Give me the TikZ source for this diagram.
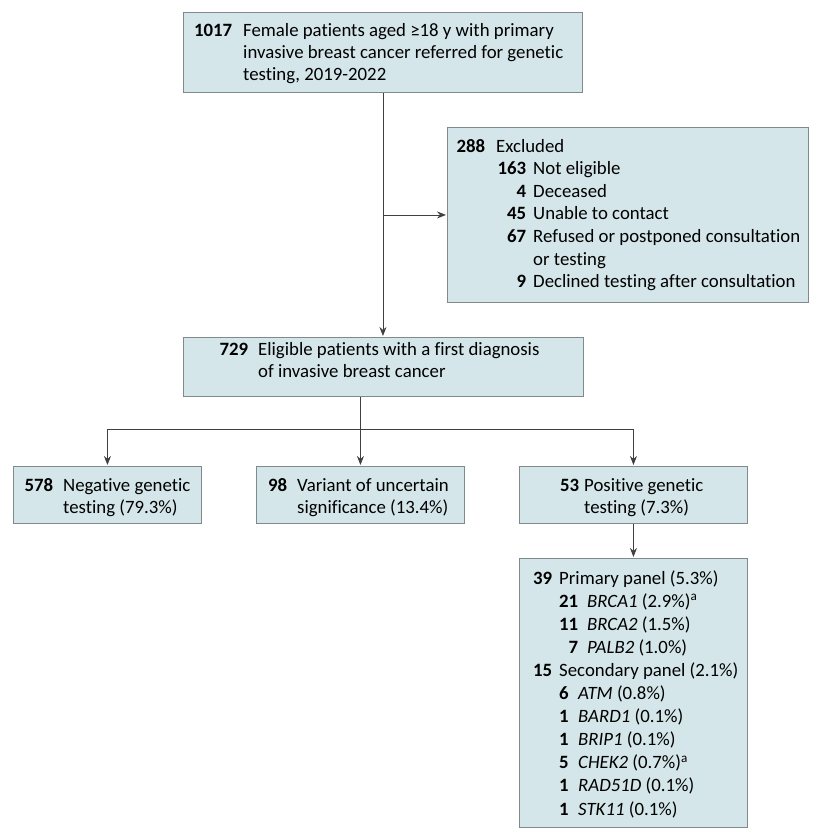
\documentclass[tikz,border=0pt]{standalone}
\usepackage{fontspec}
\setmainfont{Carlito}[Ligatures={NoCommon}]
\usetikzlibrary{arrows.meta,calc}
\definecolor{boxfill}{RGB}{212,230,234}
\definecolor{boxline}{RGB}{128,138,140}
\definecolor{conn}{RGB}{64,64,64}
\newcommand{\rnum}[2]{\makebox[#1][r]{\textbf{#2}}}
\newcommand{\lnum}[2]{\makebox[#1][l]{\textbf{#2}}}
\tikzset{
  box/.style={draw=boxline, fill=boxfill, line width=0.9pt, inner sep=0pt, anchor=north west},
  txt/.style={anchor=base west, inner sep=0pt},
  arr/.style={draw=conn, line width=0.8pt, -{Stealth[length=9pt,width=7pt]}, shorten >=1pt},
  conline/.style={draw=conn, line width=0.8pt}
}
\begin{document}
\begin{tikzpicture}[x=1pt,y=-1pt]
\useasboundingbox (0,0) rectangle (824,840);
% boxes
\node[box, minimum width=399pt, minimum height=80pt] (top) at (183,12) {};
\node[box, minimum width=361pt, minimum height=175pt] (exc) at (447,127) {};
\node[box, minimum width=400pt, minimum height=59pt] (mid) at (183,337) {};
\node[box, minimum width=188pt, minimum height=57pt] (neg) at (13,466) {};
\node[box, minimum width=208pt, minimum height=57pt] (vus) at (256,466) {};
\node[box, minimum width=228pt, minimum height=57pt] (pos) at (519,466) {};
\node[box, minimum width=228pt, minimum height=269pt] (pan) at (519,558) {};
% texts
\node[txt, font=\fontsize{18.8}{22}\selectfont] (top-t) at (193,37) {%
\begin{tabular}[t]{@{}l@{}}
\rnum{39pt}{1017}\hspace{11pt}Female patients aged ≥18 y with primary\\
\hspace*{50pt}invasive breast cancer referred for genetic\\
\hspace*{50pt}testing, 2019-2022
\end{tabular}};
\node[txt, font=\fontsize{18.8}{22.6}\selectfont] (exc-t) at (456,152) {%
\begin{tabular}[t]{@{}l@{}}
\rnum{29pt}{288}\hspace{11pt}Excluded\\
\hspace*{40pt}\rnum{30pt}{163}\hspace{7pt}Not eligible\\
\hspace*{40pt}\rnum{30pt}{4}\hspace{7pt}Deceased\\
\hspace*{40pt}\rnum{30pt}{45}\hspace{7pt}Unable to contact\\
\hspace*{40pt}\rnum{30pt}{67}\hspace{7pt}Refused or postponed consultation\\
\hspace*{77pt}or testing\\
\hspace*{40pt}\rnum{30pt}{9}\hspace{7pt}Declined testing after consultation
\end{tabular}};
\node[txt, font=\fontsize{18.8}{22}\selectfont] (mid-t) at (218,355) {%
\begin{tabular}[t]{@{}l@{}}
\rnum{30pt}{729}\hspace{10pt}Eligible patients with a first diagnosis\\
\hspace*{40pt}of invasive breast cancer
\end{tabular}};
\node[txt, font=\fontsize{18.8}{22}\selectfont] (neg-t) at (24,491) {%
\begin{tabular}[t]{@{}l@{}}
\rnum{29pt}{578}\hspace{10pt}Negative genetic\\
\hspace*{39pt}testing (79.3\%)
\end{tabular}};
\node[txt, font=\fontsize{18.8}{22}\selectfont] (vus-t) at (269,491) {%
\begin{tabular}[t]{@{}l@{}}
\rnum{18pt}{98}\hspace{10pt}Variant of uncertain\\
\hspace*{28pt}significance (13.4\%)
\end{tabular}};
\node[txt, font=\fontsize{18.8}{22}\selectfont] (pos-t) at (557,491) {%
\begin{tabular}[t]{@{}l@{}}
\rnum{22pt}{53}\hspace{5pt}Positive genetic\\
\hspace*{27pt}testing (7.3\%)
\end{tabular}};
\node[txt, font=\fontsize{18.8}{23.1}\selectfont] (pan-t) at (532,584) {%
\begin{tabular}[t]{@{}l@{}}
\rnum{20pt}{39}\hspace{7pt}Primary panel (5.3\%)\\
\hspace*{27pt}\rnum{19pt}{21}\hspace{9pt}\textit{BRCA1} (2.9\%)\textsuperscript{a}\\
\hspace*{27pt}\rnum{19pt}{11}\hspace{9pt}\textit{BRCA2} (1.5\%)\\
\hspace*{27pt}\rnum{19pt}{7}\hspace{9pt}\textit{PALB2} (1.0\%)\\
\rnum{20pt}{15}\hspace{7pt}Secondary panel (2.1\%)\\
\hspace*{27pt}\lnum{19pt}{6}\textit{ATM} (0.8\%)\\
\hspace*{27pt}\lnum{19pt}{1}\textit{BARD1} (0.1\%)\\
\hspace*{27pt}\lnum{19pt}{1}\textit{BRIP1} (0.1\%)\\
\hspace*{27pt}\lnum{19pt}{5}\textit{CHEK2} (0.7\%)\textsuperscript{a}\\
\hspace*{27pt}\lnum{19pt}{1}\textit{RAD51D} (0.1\%)\\
\hspace*{27pt}\lnum{19pt}{1}\textit{STK11} (0.1\%)
\end{tabular}};
% connectors
\draw[arr] (top.south) -- (top.south |- mid.north);
\draw[arr] (top.south |- exc.west) -- (exc.west);
\coordinate (split) at (vus.north |- 0,429);
\draw[conline] (mid.south -| vus.north) -- (split);
\draw[conline] (split -| neg.north) -- (split -| pos.north);
\draw[arr] (split -| neg.north) -- (neg.north);
\draw[arr] (split) -- (vus.north);
\draw[arr] (split -| pos.north) -- (pos.north);
\draw[arr] (pos.south) -- (pan.north);
\end{tikzpicture}
\end{document}
